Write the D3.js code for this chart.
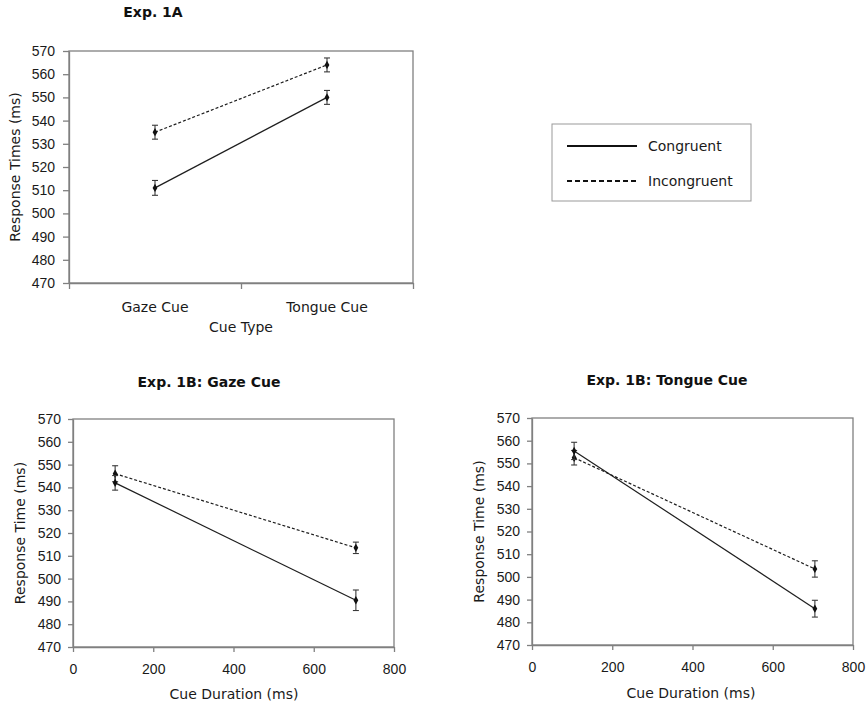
<!DOCTYPE html>
<html>
<head>
<meta charset="utf-8">
<script src="https://cdn.jsdelivr.net/npm/d3@7"></script>
<style>
  body { margin: 0; background: #fff; }
  svg { font-family: "DejaVu Sans", Verdana, sans-serif; }
  .axis path, .axis line { stroke: #808080; stroke-width: 1.3; }
  .axis text { fill: #1a1a1a; font-size: 14px; }
</style>
</head>
<body>
<svg id="chart" width="868" height="705"></svg>
<script>
// Exp. 1A
const cueTypes = ["Gaze Cue", "Tongue Cue"];
const congruent1A = [511, 550];
const congruent1AErr = [3.2, 3];
const incongruent1A = [535, 564];
const incongruent1AErr = [3, 3];

// Exp. 1B
const cueDurations = [105, 705];
const gazeCongruent = [542, 490.5];
const gazeCongruentErr = [3.2, 4.5];
const gazeIncongruent = [546, 513.5];
const gazeIncongruentErr = [3.5, 2.5];
const tongueCongruent = [555.5, 486];
const tongueCongruentErr = [3.8, 3.7];
const tongueIncongruent = [552.5, 503.5];
const tongueIncongruentErr = [3.2, 3.6];

const yTicks = d3.range(470, 571, 10);
const xTicks = [0, 200, 400, 600, 800];

const svg = d3.select("#chart");

function panel(opt) {
  const g = svg.append("g");
  const y = d3.scaleLinear().domain([470, 570]).range([opt.bottom, opt.top]);

  // frame
  g.append("rect")
    .attr("x", opt.left).attr("y", opt.top)
    .attr("width", opt.right - opt.left).attr("height", opt.bottom - opt.top)
    .attr("fill", "none").attr("stroke", "#808080").attr("stroke-width", 1.3);

  g.append("g").attr("class", "axis")
    .attr("transform", `translate(${opt.left},0)`)
    .call(d3.axisLeft(y).tickValues(yTicks).tickSize(opt.yTick).tickPadding(opt.yPad).tickSizeOuter(0));

  g.append("text")
    .attr("transform", `translate(${opt.yLabelX},${(opt.top + opt.bottom) / 2}) rotate(-90)`)
    .attr("text-anchor", "middle").attr("font-size", 14).attr("fill", "#1a1a1a")
    .text(opt.yLabel);

  g.append("text")
    .attr("x", opt.titleX).attr("y", opt.titleY)
    .attr("text-anchor", "middle").attr("font-size", 14).attr("font-weight", "bold")
    .attr("fill", "#111")
    .text(opt.title);

  return { g: g, y: y };
}

function plotLine(g, pts, dashed) {
  const line = d3.line().x(d => d.px).y(d => d.py);
  g.append("path").datum(pts)
    .attr("d", line)
    .attr("fill", "none").attr("stroke", "#1e1e1e").attr("stroke-width", 1.2)
    .attr("stroke-dasharray", dashed ? "3,2" : null);

  // error bars with caps
  const eb = g.append("g").attr("stroke", "#3a3a3a").attr("stroke-width", 1.1);
  pts.forEach(p => {
    eb.append("line").attr("x1", p.px).attr("x2", p.px).attr("y1", p.top).attr("y2", p.bot);
    eb.append("line").attr("x1", p.px - 3).attr("x2", p.px + 3).attr("y1", p.top).attr("y2", p.top);
    eb.append("line").attr("x1", p.px - 3).attr("x2", p.px + 3).attr("y1", p.bot).attr("y2", p.bot);
  });

  g.selectAll(null).data(pts).enter().append("path")
    .attr("transform", d => `translate(${d.px},${d.py})`)
    .attr("d", d3.symbol(d3.symbolDiamond, 20))
    .attr("fill", "#111");
}

function toPts(xs, ys, errs, xf, y) {
  return xs.map((x, i) => ({
    px: xf(x), py: y(ys[i]), top: y(ys[i] + errs[i]), bot: y(ys[i] - errs[i])
  }));
}

// ---- Exp. 1A ----
{
  const opt = { left: 69, right: 413, top: 51, bottom: 283, yTick: 6, yPad: 8,
    yLabelX: 19.5, yLabel: "Response Times (ms)", title: "Exp. 1A", titleX: 153, titleY: 17 };
  const p = panel(opt);
  const x = d3.scaleBand().domain(cueTypes).range([opt.left, opt.right]).paddingInner(0).paddingOuter(0);
  const edges = d3.scaleLinear().domain([0, cueTypes.length]).range([opt.left, opt.right]);

  // ticks sit on the category boundaries, labels in the middle
  p.g.append("g").attr("class", "axis")
    .attr("transform", `translate(0,${opt.bottom})`)
    .call(d3.axisBottom(edges).tickValues(d3.range(cueTypes.length + 1)).tickFormat("").tickSize(6).tickSizeOuter(0));

  p.g.selectAll(".catlab").data(cueTypes).enter().append("text")
    .attr("x", d => x(d) + x.bandwidth() / 2).attr("y", opt.bottom + 28.5)
    .attr("text-anchor", "middle").attr("font-size", 14).attr("fill", "#1a1a1a")
    .text(d => d);

  p.g.append("text").attr("x", 241).attr("y", 331.5)
    .attr("text-anchor", "middle").attr("font-size", 14).attr("fill", "#1a1a1a")
    .text("Cue Type");

  const xc = d => x(d) + x.bandwidth() / 2;
  plotLine(p.g, toPts(cueTypes, incongruent1A, incongruent1AErr, xc, p.y), true);
  plotLine(p.g, toPts(cueTypes, congruent1A, congruent1AErr, xc, p.y), false);
}

// ---- Legend ----
{
  const lg = svg.append("g");
  lg.append("rect").attr("x", 552).attr("y", 124).attr("width", 199).attr("height", 77)
    .attr("fill", "none").attr("stroke", "#999").attr("stroke-width", 1);
  const items = [{ name: "Congruent", dash: null, y: 146 }, { name: "Incongruent", dash: "5,3", y: 181 }];
  items.forEach(it => {
    lg.append("line").attr("x1", 567).attr("x2", 637).attr("y1", it.y).attr("y2", it.y)
      .attr("stroke", "#111").attr("stroke-width", 2).attr("stroke-dasharray", it.dash);
    lg.append("text").attr("x", 648).attr("y", it.y + 5)
      .attr("font-size", 14).attr("fill", "#1a1a1a").text(it.name);
  });
}

// ---- Exp. 1B panels ----
function durationPanel(opt, cong, congErr, incong, incongErr) {
  const p = panel(opt);
  const x = d3.scaleLinear().domain([0, 800]).range([opt.left, opt.right]);
  p.g.append("g").attr("class", "axis")
    .attr("transform", `translate(0,${opt.bottom})`)
    .call(d3.axisBottom(x).tickValues(xTicks).tickSize(5).tickPadding(12).tickSizeOuter(0));
  p.g.append("text").attr("x", opt.xLabelX).attr("y", opt.xLabelY)
    .attr("text-anchor", "middle").attr("font-size", 14).attr("fill", "#1a1a1a")
    .text("Cue Duration (ms)");
  plotLine(p.g, toPts(cueDurations, incong, incongErr, x, p.y), true);
  plotLine(p.g, toPts(cueDurations, cong, congErr, x, p.y), false);
}

durationPanel({ left: 73, right: 394, top: 419, bottom: 647, yTick: 5, yPad: 7,
  yLabelX: 24.5, yLabel: "Response Time (ms)", title: "Exp. 1B: Gaze Cue", titleX: 209, titleY: 386.5,
  xLabelX: 234, xLabelY: 699 },
  gazeCongruent, gazeCongruentErr, gazeIncongruent, gazeIncongruentErr);

durationPanel({ left: 532, right: 853, top: 418, bottom: 645, yTick: 5, yPad: 7,
  yLabelX: 483.5, yLabel: "Response Time (ms)", title: "Exp. 1B: Tongue Cue", titleX: 667, titleY: 385,
  xLabelX: 691, xLabelY: 698 },
  tongueCongruent, tongueCongruentErr, tongueIncongruent, tongueIncongruentErr);
</script>
</body>
</html>
